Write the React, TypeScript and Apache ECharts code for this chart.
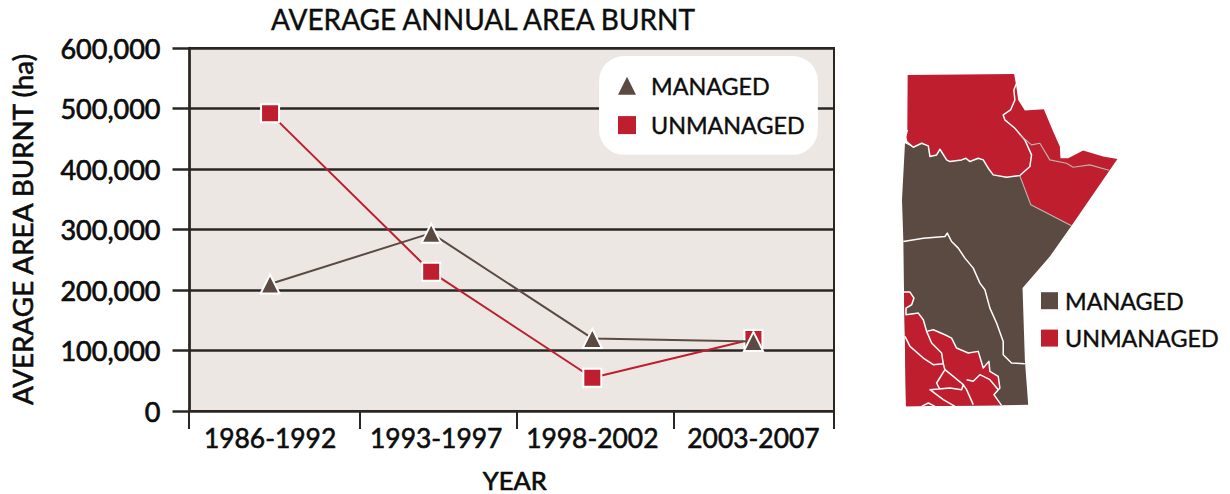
import React, { useEffect, useRef } from "react";
import * as echarts from "echarts";

const categories = ["1986-1992", "1993-1997", "1998-2002", "2003-2007"];
const managed = [210000, 294000, 120000, 115000];
const unmanaged = [492000, 230000, 55000, 119000];
const yTicks = { min: 0, max: 600000, interval: 100000 };
const periodEdges = [189, 360, 517, 674, 834];

const BROWN = "#5b4a42";
const RED = "#be1e2d";
const INK = "#0d0d0d";
const LINE = "#2a2624";
const FONT = "Lato, 'Noto Sans', sans-serif";

const P = (pts: number[][]) => "M" + pts.map((p) => p.join(" ")).join("L") + "Z";
const L = (pts: number[][]) => "M" + pts.map((p) => p.join(" ")).join("L");

const northBoundary = [
  [375, 42], [380, 70], [372, 90], [375, 120], [362, 150], [340, 165], [345, 180], [375, 205], [405, 240],
  [425, 285], [420, 320], [390, 347], [350, 352], [310, 345], [295, 325], [280, 300], [265, 295], [240, 305],
  [228, 295], [215, 300], [180, 305], [170, 300], [150, 268], [140, 285], [120, 290], [115, 258], [95, 250],
  [70, 262], [50, 245], [47, 232], [52, 210],
];
const redNorth = [[53, 45], ...northBoundary];
const redEast = [
  [378, 70], [385, 120], [405, 152], [462, 148], [490, 215], [510, 260], [512, 295], [535, 295], [580, 272],
  [640, 290], [683, 297], [545, 498], [423, 435], [390, 348], [420, 320], [425, 285], [405, 240], [375, 205],
  [345, 180], [340, 165], [362, 150], [375, 120], [372, 90],
];
const brownBody = [
  [45, 250], [70, 262], [95, 250], [115, 258], [120, 290], [140, 285], [150, 268], [170, 300], [180, 305],
  [215, 300], [228, 295], [240, 305], [265, 295], [280, 300], [295, 325], [310, 345], [350, 352], [390, 347],
  [423, 435], [545, 498], [480, 590], [398, 685], [405, 900], [415, 1035], [335, 1037], [48, 1040], [42, 690],
  [40, 540], [36, 420],
];
const redSouth = [
  [42, 697], [60, 697], [72, 715], [65, 735], [48, 745], [48, 765], [85, 760], [100, 780], [110, 815], [130, 810],
  [165, 825], [185, 835], [200, 865], [235, 880], [265, 875], [280, 925], [297, 905], [300, 935], [325, 950],
  [330, 985], [312, 1005], [335, 1037], [48, 1040], [45, 830],
];
const whiteLines = [
  northBoundary,
  [[40, 545], [100, 535], [165, 530], [172, 520], [185, 545], [205, 565], [225, 595], [250, 625], [270, 670],
   [285, 690], [300, 745], [320, 790], [340, 845], [340, 885], [365, 910], [405, 912]],
  redSouth.slice(0, 22),
  [[45, 830], [60, 860], [100, 895], [130, 915], [160, 912], [155, 880], [125, 850], [110, 815]],
  [[160, 912], [165, 930], [190, 950], [220, 975], [215, 990], [180, 985], [120, 990], [160, 1020], [195, 1040]],
  [[165, 930], [140, 970], [150, 990]],
  [[220, 975], [230, 990], [250, 1035]],
  [[230, 960], [250, 965], [270, 945], [300, 960], [325, 990]],
  [[95, 1040], [115, 1030], [135, 1040]],
];
const greyLines = [
  [[390, 225], [425, 255], [450, 250], [480, 300], [530, 310], [550, 322], [600, 315], [660, 332]],
  [[390, 348], [423, 435], [545, 498]],
];

echarts.graphic.registerShape("mapRedA", echarts.graphic.extendPath(P(redNorth), {}));
echarts.graphic.registerShape("mapRedB", echarts.graphic.extendPath(P(redEast), {}));
echarts.graphic.registerShape("mapBrown", echarts.graphic.extendPath(P(brownBody), {}));
echarts.graphic.registerShape("mapRedC", echarts.graphic.extendPath(P(redSouth), {}));
echarts.graphic.registerShape("mapWhite", echarts.graphic.extendPath(whiteLines.map(L).join(""), {}));
echarts.graphic.registerShape("mapGrey", echarts.graphic.extendPath(greyLines.map(L).join(""), {}));

const faux = (size: number, b = 0.6) => ({
  color: INK, fontFamily: FONT, fontSize: size, fontWeight: 400,
  textBorderColor: INK, textBorderWidth: b,
});

export default function App() {
  const ref = useRef<HTMLDivElement>(null);
  useEffect(() => {
    const chart = echarts.init(ref.current!, undefined, { renderer: "svg" });
    const mapPiece = (type: string, style: any) => ({
      type, x: 890, y: 60, scaleX: 1 / 3, scaleY: 1 / 3, style, silent: true,
    });
    chart.setOption({
      animation: false,
      backgroundColor: "#ffffff",
      textStyle: { fontFamily: FONT },
      title: {
        text: "AVERAGE ANNUAL AREA BURNT",
        left: 478,
        top: 0,
        textAlign: "center",
        textStyle: faux(28, 0.4),
      },
      grid: {
        outerBoundsMode: "none",
        containLabel: false,
        left: 189.5,
        top: 48,
        width: 644.5,
        height: 363,
        show: true,
        backgroundColor: "#ece7e3",
        borderColor: LINE,
        borderWidth: 2,
      },
      legend: [
        {
          left: 599, top: 56, orient: "vertical", padding: [18, 13, 18, 19], itemGap: 16,
          backgroundColor: "#ffffff", borderRadius: 25,
          itemWidth: 18, itemHeight: 18,
          data: [
            { name: "MANAGED", icon: "triangle", itemStyle: { color: BROWN, borderWidth: 0 } },
            { name: "UNMANAGED", icon: "rect", itemStyle: { color: RED, borderWidth: 0 } },
          ],
          textStyle: { ...faux(23.3, 0.4), padding: [0, 0, 0, 10] },
          selectedMode: false,
        },
        {
          left: 1041, top: 289, orient: "vertical", padding: 0, itemGap: 14,
          itemWidth: 17, itemHeight: 17,
          data: [
            { name: "MANAGED", icon: "rect", itemStyle: { color: BROWN, borderWidth: 0 } },
            { name: "UNMANAGED", icon: "rect", itemStyle: { color: RED, borderWidth: 0 } },
          ],
          textStyle: { ...faux(23.3, 0.4), padding: [0, 0, 0, 2] },
          selectedMode: false,
        },
      ],
      xAxis: {
        type: "category",
        data: categories.map((value, i) =>
          i === 1 ? { value, textStyle: { padding: [0, 0, 0, 10] } } : value
        ),
        boundaryGap: true,
        name: "YEAR",
        nameLocation: "middle",
        nameGap: 58,
        nameTextStyle: { ...faux(25.5, 0.7), lineHeight: 22, padding: [0, 0, 0, 6] },
        axisLine: { show: true, lineStyle: { color: LINE, width: 2 } },
        axisTick: { show: false },
        axisLabel: { ...faux(26.4, 0.6), margin: 14, interval: 0, hideOverlap: false },
      },
      yAxis: {
        type: "value",
        ...yTicks,
        name: "AVERAGE AREA BURNT (ha)",
        nameLocation: "middle",
        nameGap: 153,
        nameRotate: 90,
        nameTextStyle: faux(27.8, 0.6),
        axisLine: { show: true, lineStyle: { color: LINE, width: 2.5 } },
        axisTick: { show: true, length: 17, lineStyle: { color: LINE, width: 2.5 } },
        axisLabel: {
          ...faux(27, 0.7), margin: 29, padding: [0, 0, 3, 0],
          formatter: (v: number) => v.toLocaleString("en-US"),
        },
        splitLine: { show: true, lineStyle: { color: LINE, width: 2.5 } },
      },
      series: [
        {
          name: "UNMANAGED", type: "line", data: unmanaged, z: 3,
          symbol: "rect", symbolSize: 18,
          lineStyle: { color: RED, width: 2 },
          itemStyle: { color: RED, borderColor: "#ffffff", borderWidth: 2, opacity: 1 },
        },
        {
          name: "MANAGED", type: "line", data: managed, z: 4,
          symbol: "triangle", symbolSize: 19,
          lineStyle: { color: BROWN, width: 2 },
          itemStyle: { color: BROWN, borderColor: "#ffffff", borderWidth: 2, opacity: 1 },
        },
      ],
      graphic: [
        ...periodEdges.map((x) => ({
          type: "line", shape: { x1: x, y1: 411, x2: x, y2: 429 },
          style: { stroke: LINE, lineWidth: 2 }, silent: true,
        })),
        mapPiece("mapBrown", { fill: BROWN }),
        mapPiece("mapRedA", { fill: RED }),
        mapPiece("mapRedB", { fill: RED }),
        mapPiece("mapRedC", { fill: RED }),
        mapPiece("mapWhite", { fill: "none", stroke: "#ffffff", lineWidth: 4.5, lineJoin: "round" }),
        mapPiece("mapGrey", { fill: "none", stroke: "#b9b3ae", lineWidth: 3.5, lineJoin: "round" }),
      ],
    });
    return () => chart.dispose();
  }, []);
  return (
    <div
      ref={ref}
      style={{ position: "fixed", left: 0, top: 0, width: 1230, height: 494, background: "#fff" }}
    />
  );
}
